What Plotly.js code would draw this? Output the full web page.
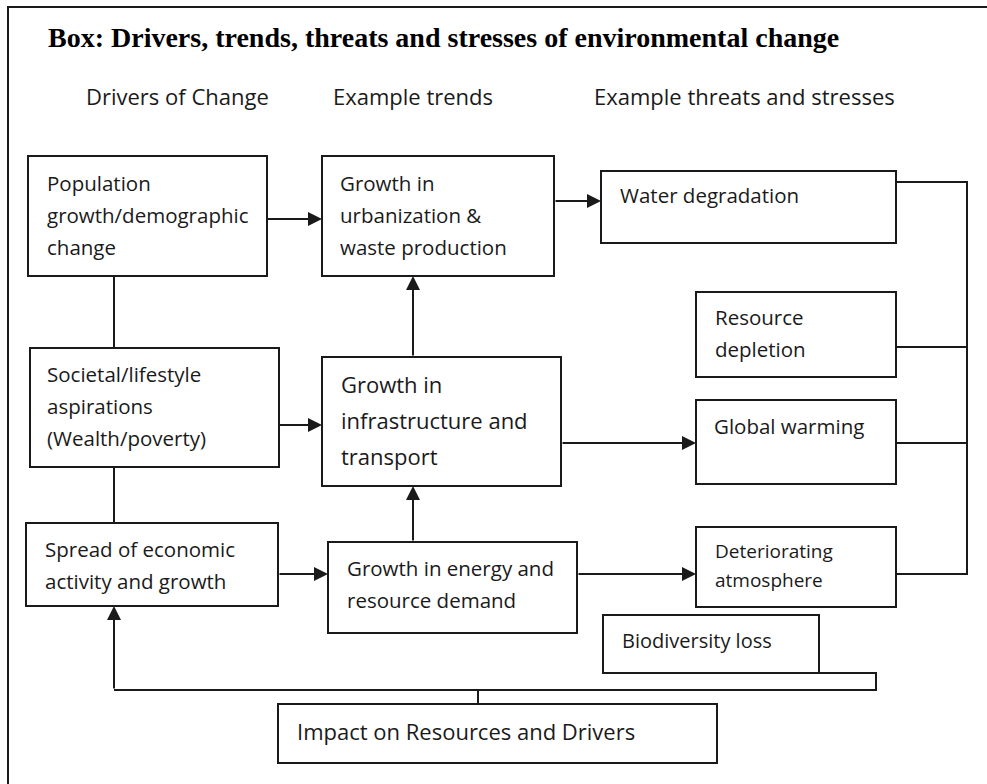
<!DOCTYPE html>
<html>
<head>
<meta charset="utf-8">
<script src="https://cdn.plot.ly/plotly-3.0.1.min.js"></script>
<style>
  html, body { margin: 0; padding: 0; background: #fff; }
  #chart { width: 987px; height: 784px; }
</style>
</head>
<body>
<div id="chart"></div>
<script>
// ---- content ----
const titleText = "Box: Drivers, trends, threats and stresses of environmental change";
const headers = ["Drivers of Change", "Example trends", "Example threats and stresses"];
const boxIds = ["pop", "urban", "water", "resource", "societal", "infra", "global", "spread", "energy", "deter", "biodiv", "impact"];
const boxLabels = [
  ["Population", "growth/demographic", "change"],
  ["Growth in", "urbanization &", "waste production"],
  ["Water degradation"],
  ["Resource", "depletion"],
  ["Societal/lifestyle", "aspirations", "(Wealth/poverty)"],
  ["Growth in", "infrastructure and", "transport"],
  ["Global warming"],
  ["Spread of economic", "activity and growth"],
  ["Growth in energy and", "resource demand"],
  ["Deteriorating", "atmosphere"],
  ["Biodiversity loss"],
  ["Impact on Resources and Drivers"]
];
// directed links (from -> to)
const arrowLinks = [
  ["pop", "urban"], ["urban", "water"], ["societal", "infra"], ["infra", "urban"],
  ["energy", "infra"], ["infra", "global"], ["energy", "deter"], ["spread", "energy"],
  ["impact", "spread"]
];

// ---- layout geometry (pixels, y downward) ----
const boxRects = {
  pop: [28, 156, 267, 276], urban: [322, 156, 554, 276], water: [601, 171, 896, 243],
  resource: [696, 292, 896, 377], societal: [30, 348, 279, 467], infra: [322, 357, 561, 486],
  global: [696, 400, 896, 484], spread: [26, 523, 278, 606], energy: [328, 542, 577, 633],
  deter: [696, 527, 896, 607], biodiv: [603, 615, 819, 673], impact: [278, 704, 717, 763]
};
const textPos = { // left x, first line y, line step, font size
  pop: [47, 183, 32, 20.5], urban: [340, 183, 32, 20.5], water: [620, 195, 32, 20.5],
  resource: [715, 317, 32, 20.5], societal: [47, 374, 32, 20.5], infra: [341, 384, 36, 22],
  global: [714, 426, 32, 20.5], spread: [45, 549, 32, 20.5], energy: [347, 568, 32, 20.5],
  deter: [715, 551, 29, 19], biodiv: [622, 640, 32, 20], impact: [297, 731, 32, 22]
};
const arrowGeom = [
  [[266, 219], [322, 219]], [[554, 201], [601, 201]], [[277, 425], [322, 425]],
  [[413, 357], [413, 276]], [[413, 542], [413, 486]], [[561, 443], [696, 443]],
  [[577, 574], [696, 574]], [[278, 574], [328, 574]], [[114, 690], [114, 606]]
];
const plainPaths = [
  "M114,276 V348", "M114,467 V523",
  "M896,182 H967 V574 H896", "M896,347 H967", "M896,443 H967",
  "M478,704 V690", "M114,690 H876 V673 H819"
];

const ink = "#1a1a1a";
const bodyFont = "Open Sans, Noto Sans, sans-serif";

const shapes = [];
const annotations = [];

// outer frame
shapes.push({type: "path", path: "M8,784 V7 H987", line: {color: ink, width: 2}, xref: "x", yref: "y"});

boxIds.forEach((id, i) => {
  const r = boxRects[id];
  shapes.push({type: "rect", xref: "x", yref: "y", x0: r[0], y0: r[1], x1: r[2], y1: r[3],
    line: {color: ink, width: 2}, fillcolor: "rgba(0,0,0,0)"});
  const t = textPos[id];
  boxLabels[i].forEach((line, k) => {
    annotations.push({x: t[0], y: t[1] + k * t[2], xref: "x", yref: "y", text: line,
      showarrow: false, xanchor: "left", yanchor: "middle", xshift: -2,
      font: {family: bodyFont, size: t[3], color: ink}});
  });
});

plainPaths.forEach(p => shapes.push({type: "path", path: p, xref: "x", yref: "y", line: {color: ink, width: 2}}));

arrowLinks.forEach((lk, i) => {
  const g = arrowGeom[i];
  annotations.push({x: g[1][0], y: g[1][1], ax: g[0][0], ay: g[0][1], xref: "x", yref: "y",
    axref: "x", ayref: "y", text: "", showarrow: true, arrowhead: 2, arrowsize: 1.4,
    arrowwidth: 2, arrowcolor: ink, standoff: 0, startstandoff: 0});
});

// title and headers
annotations.push({x: 48, y: 37, xref: "x", yref: "y", text: "<b>" + titleText + "</b>", showarrow: false,
  xanchor: "left", yanchor: "middle", xshift: -2,
  font: {family: "Liberation Serif, Times New Roman, serif", size: 28, color: "#000"}});
const headerX = [86, 333, 594];
headers.forEach((h, i) => annotations.push({x: headerX[i], y: 96, xref: "x", yref: "y", text: h,
  showarrow: false, xanchor: "left", yanchor: "middle", xshift: -2,
  font: {family: bodyFont, size: 22, color: ink}}));

const layout = {
  width: 987, height: 784, margin: {l: 0, r: 0, t: 0, b: 0},
  paper_bgcolor: "#fff", plot_bgcolor: "#fff", showlegend: false,
  xaxis: {range: [0, 987], visible: false, fixedrange: true},
  yaxis: {range: [784, 0], visible: false, fixedrange: true},
  shapes: shapes, annotations: annotations
};
Plotly.newPlot("chart", [], layout, {staticPlot: true, displayModeBar: false});
</script>
</body>
</html>
